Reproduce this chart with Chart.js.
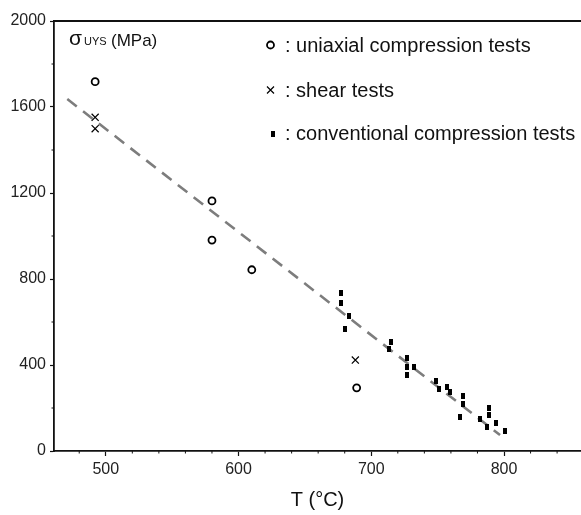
<!DOCTYPE html>
<html>
<head>
<meta charset="utf-8">
<script src="https://cdn.jsdelivr.net/npm/chart.js@4.4.1/dist/chart.umd.min.js"></script>
<style>
html, body { margin: 0; padding: 0; background: #fff; }
</style>
</head>
<body>
<canvas id="stressChart" width="581" height="515"></canvas>
<script>
// temperature (°C) vs yield stress (MPa)
var uniaxialT = [492, 580, 580, 610, 689];
var uniaxialS = [1718, 1163, 981, 843, 294];

var shearT = [492, 492, 688];
var shearS = [1552, 1499, 423];

var convT = [677, 677, 683, 680, 715, 713, 727, 727, 732, 727, 749, 751, 757, 759, 769, 769, 767, 782, 789, 789, 794, 787, 801];
var convS = [733, 687, 628, 566, 505, 476, 434, 392, 389, 352, 324, 287, 299, 273, 256, 220, 160, 150, 199, 167, 132, 110, 94];

var fitT = [471, 797];
var fitS = [1637, 74];

var xTicks = [500, 600, 700, 800];
var yTicks = [0, 400, 800, 1200, 1600, 2000];

var legendLabels = [': uniaxial compression tests', ': shear tests', ': conventional compression tests'];

var FONT = "'Liberation Sans', Arial, Helvetica, sans-serif";

function pts(xs, ys) {
    return xs.map(function (x, i) { return { x: x, y: ys[i] }; });
}

// small upright filled block used for the conventional tests
var block = document.createElement('canvas');
block.width = 4;
block.height = 6;
var bctx = block.getContext('2d');
bctx.fillStyle = '#000';
bctx.fillRect(0, 0, 4, 6);

var framePlugin = {
    id: 'frame',
    afterDraw: function (chart) {
        var ctx = chart.ctx;
        var a = chart.chartArea;
        var xs = chart.scales.x, ys = chart.scales.y;
        var i, p;
        ctx.save();

        // top border
        ctx.strokeStyle = '#111';
        ctx.lineWidth = 1.8;
        ctx.beginPath();
        ctx.moveTo(a.left, a.top);
        ctx.lineTo(a.right, a.top);
        ctx.stroke();

        // minor ticks
        ctx.lineWidth = 1;
        ctx.beginPath();
        for (i = 480; i < 860; i += 20) {
            if (i % 100 === 0) continue;
            p = xs.getPixelForValue(i);
            ctx.moveTo(p, a.bottom);
            ctx.lineTo(p, a.bottom + 2.5);
        }
        for (i = 200; i < 2000; i += 400) {
            p = ys.getPixelForValue(i);
            ctx.moveTo(a.left, p);
            ctx.lineTo(a.left - 2.5, p);
        }
        ctx.stroke();

        // y quantity label
        ctx.fillStyle = '#111';
        ctx.textBaseline = 'alphabetic';
        ctx.textAlign = 'left';
        ctx.font = '21px ' + FONT;
        ctx.fillText('σ', 69, 45);
        ctx.font = '11px ' + FONT;
        ctx.fillText('UYS', 84, 45);
        ctx.font = '17px ' + FONT;
        ctx.fillText('(MPa)', 111, 46);

        // legend
        var ly = [45, 90, 134];
        ctx.strokeStyle = '#000';
        ctx.lineWidth = 1.8;
        ctx.beginPath();
        ctx.arc(270.5, ly[0], 3.5, 0, Math.PI * 2);
        ctx.stroke();
        ctx.lineWidth = 1.2;
        ctx.beginPath();
        ctx.moveTo(267, ly[1] - 3.5); ctx.lineTo(274, ly[1] + 3.5);
        ctx.moveTo(274, ly[1] - 3.5); ctx.lineTo(267, ly[1] + 3.5);
        ctx.stroke();
        ctx.drawImage(block, 271, ly[2] - 3);

        ctx.font = '20px ' + FONT;
        ctx.fillText(legendLabels[0], 285, 52);
        ctx.fillText(legendLabels[1], 285, 97);
        ctx.fillText(legendLabels[2], 285, 140);
        ctx.restore();
    }
};

var config = {
    type: 'scatter',
    data: {
        datasets: [{
            label: 'fit',
            type: 'line',
            data: pts(fitT, fitS),
            borderColor: '#7d7d7d',
            borderWidth: 2.6,
            borderDash: [12, 8],
            pointRadius: 0,
            fill: false,
            order: 10
        }, {
            label: 'uniaxial compression tests',
            data: pts(uniaxialT, uniaxialS),
            pointStyle: 'circle',
            pointRadius: 3.5,
            pointBorderWidth: 1.8,
            pointBorderColor: '#000',
            pointBackgroundColor: '#fff'
        }, {
            label: 'shear tests',
            data: pts(shearT, shearS),
            pointStyle: 'crossRot',
            pointRadius: 5,
            pointBorderWidth: 1.2,
            pointBorderColor: '#000'
        }, {
            label: 'conventional compression tests',
            data: pts(convT, convS),
            pointStyle: block,
            pointRadius: 3
        }]
    },
    options: {
        responsive: false,
        animation: false,
        layout: { autoPadding: false, padding: { top: 21, right: 0, left: 0, bottom: 0 } },
        plugins: {
            legend: { display: false },
            tooltip: { enabled: false }
        },
        scales: {
            x: {
                type: 'linear',
                min: 461,
                max: 858,
                afterBuildTicks: function (s) { s.ticks = xTicks.map(function (v) { return { value: v }; }); },
                afterFit: function (s) { s.height = 64; },
                grid: { drawOnChartArea: false, tickLength: 5, tickColor: '#111', tickWidth: 1.2 },
                border: { color: '#111', width: 1.8 },
                ticks: {
                    color: '#222', padding: 4, font: { family: FONT, size: 16 },
                    callback: function (v) { return String(v); }
                },
                title: {
                    display: true,
                    text: 'T (°C)',
                    color: '#111',
                    padding: { top: 0, bottom: 3 },
                    font: { family: FONT, size: 20 }
                }
            },
            y: {
                min: 0,
                max: 2000,
                afterBuildTicks: function (s) { s.ticks = yTicks.map(function (v) { return { value: v }; }); },
                afterFit: function (s) { s.width = 54; },
                grid: { drawOnChartArea: false, tickLength: 4, tickColor: '#111', tickWidth: 1.2 },
                border: { color: '#111', width: 1.8 },
                ticks: {
                    color: '#222', padding: 4, font: { family: FONT, size: 16 },
                    callback: function (v) { return String(v); }
                }
            }
        }
    },
    plugins: [framePlugin]
};

var ctx = document.getElementById('stressChart').getContext('2d');
var chart = new Chart(ctx, config);
</script>
</body>
</html>
